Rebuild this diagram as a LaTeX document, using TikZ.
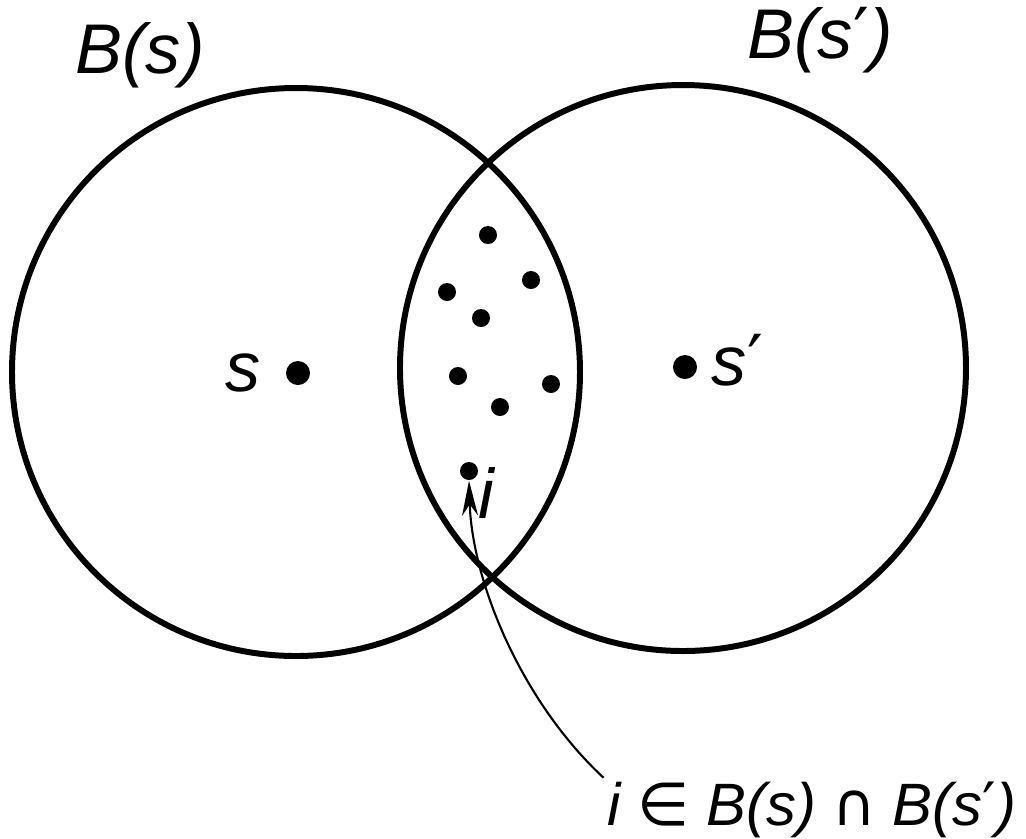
\documentclass[tikz,border=0pt]{standalone}
\usepackage{fontspec}
\setmainfont{Liberation Sans}
\newfontfamily\symfont{DejaVu Sans}
\usetikzlibrary{arrows.meta,positioning}
\tikzset{
  ball/.style={draw,line width=1.7pt},
  bigdot/.style={circle,fill,inner sep=0pt,minimum size=0.24cm},
  smalldot/.style={circle,fill,inner sep=0pt,minimum size=0.18cm},
  lbl/.style={font=\fontsize{20}{24}\selectfont\itshape,inner sep=1pt},
}
\begin{document}
\begin{tikzpicture}[x=0.01cm,y=-0.01cm]
	\useasboundingbox (0,0) rectangle (1026,838);
	% the two balls
	\draw[ball] (296,372) circle (284);
	\draw[ball] (683,368) circle (283);
	\node[lbl] (Bs)  at (140,55) {B(s)};
	\node[lbl] (Bsp) at (820,40) {B(s{\symfont\upshape′})};
	% centres
	\node[bigdot] (s)  at (298,373) {};
	\node[bigdot] (sp) at (685,367) {};
	\node[lbl,left=0.2cm of s]  (slbl)  {s};
	\node[lbl,right=0.1cm of sp,yshift=2pt] (splbl) {s{\symfont\upshape′}};
	% points in the intersection
	\node[smalldot] (p1) at (488,235) {};
	\node[smalldot] (p2) at (531,280) {};
	\node[smalldot] (p3) at (447,292) {};
	\node[smalldot] (p4) at (481,318) {};
	\node[smalldot] (p5) at (458,376) {};
	\node[smalldot] (p6) at (551,384) {};
	\node[smalldot] (p7) at (500,407) {};
	\node[smalldot] (i)  at (469,471) {};
	\node[lbl] (ilbl) at (486,493) {i};
	% the annotation
	\node[lbl,font=\fontsize{17}{20}\selectfont\itshape] (cap) at (812,810)
		{i {\symfont\upshape∈} B(s) {\symfont\upshape∩} B(s{\symfont\upshape′})};
	\draw[-{Stealth[length=0.35cm,width=0.16cm]},line width=0.6pt]
		(cap.north west) .. controls (520,700) and (472,580) .. (i.south);
\end{tikzpicture}
\end{document}
